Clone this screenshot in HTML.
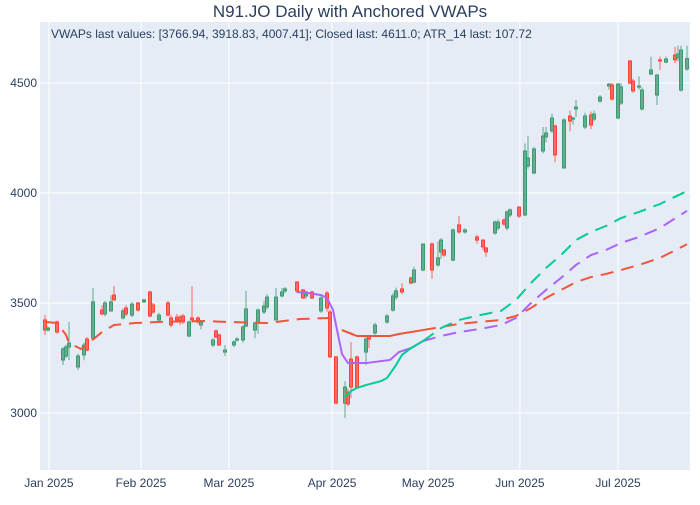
<!DOCTYPE html>
<html><head><meta charset="utf-8"><style>
body{margin:0;background:#fff;font-family:"Liberation Sans",sans-serif}
svg text{font-family:"Liberation Sans",sans-serif}
</style></head><body>
<svg id="chart" width="700" height="500" xmlns="http://www.w3.org/2000/svg">
<rect x="0" y="0" width="700" height="500" fill="#fff"/>
<rect x="40" y="22" width="650" height="448" fill="#E5ECF6"/>
<g id="grid"></g>
<g id="xticks"></g>
<g id="yticks"></g>
<g id="candles"></g>
<g id="lines"></g>
<text x="350" y="17" text-anchor="middle" font-size="17" fill="#2a3f5f">N91.JO Daily with Anchored VWAPs</text>
<text x="51" y="38" font-size="12" fill="#2a3f5f">VWAPs last values: [3766.94, 3918.83, 4007.41]; Closed last: 4611.0; ATR_14 last: 107.72</text>
</svg>
<script>
// candle data: day offset, open, high, low, close
const days=[-1,0,3,5,6,7,10,12,13,15,18,19,21,22,25,26,28,30,32,34,35,37,40,41,43,44,45,47,48,50,51,55,56,57,59,62,63,65,66,69,70,72,73,76,78,79,83,85,86,88,91,93,94,96,99,100,101,103,106,107,109,113,115,116,118,121,122,125,128,130,131,132,135,137,139,143,145,146,149,150,152,153,154,157,159,160,162,165,166,168,169,172,174,175,176,179,181,182,184,187,188,190,191,194,195,197,198,201,203,204,206,209,210,211,213];
const opens=[3423,3377,3414,3241,3259,3300,3209,3264,3336,3341,3468,3450,3464,3536,3432,3477,3445,3500,3505,3550,3491,3423,3500,3432,3436,3436,3441,3350,3432,3432,3400,3309,3373,3355,3277,3309,3332,3332,3395,3377,3409,3459,3482,3423,3532,3555,3595,3559,3532,3550,3464,3545,3459,3255,3045,3095,3245,3255,3277,3350,3364,3414,3468,3527,3564,3614,3595,3650,3768,3673,3732,3741,3695,3855,3823,3800,3786,3750,3818,3841,3877,3841,3900,3936,3900,4123,4091,4191,4255,4282,4305,4114,4350,4336,4382,4300,4355,4336,4418,4486,4491,4341,4409,4600,4509,4482,4382,4541,4445,4605,4595,4627,4614,4468,4564];
const highs=[3445,3395,3420,3300,3310,3414,3270,3320,3345,3568,3490,3510,3536,3577,3475,3490,3505,3505,3520,3555,3500,3455,3510,3445,3450,3445,3450,3420,3577,3440,3420,3340,3380,3360,3309,3330,3345,3400,3555,3415,3475,3510,3540,3568,3568,3573,3600,3564,3555,3555,3530,3555,3470,3260,3145,3110,3323,3260,3355,3355,3410,3450,3545,3570,3590,3620,3665,3770,3775,3780,3795,3745,3840,3895,3840,3810,3790,3755,3875,3880,3885,3920,3930,3940,4225,4260,4210,4300,4300,4360,4310,4340,4375,4345,4423,4365,4370,4375,4445,4500,4500,4500,4500,4605,4520,4530,4480,4620,4541,4620,4620,4665,4670,4670,4670];
const lows=[3355,3370,3360,3218,3250,3241,3195,3240,3280,3341,3445,3440,3460,3510,3425,3440,3435,3460,3500,3435,3450,3418,3440,3390,3410,3400,3405,3345,3410,3405,3380,3300,3340,3305,3259,3300,3325,3320,3390,3340,3360,3450,3470,3420,3525,3545,3545,3518,3520,3518,3455,3460,3250,3040,2977,3030,3068,3110,3218,3295,3355,3405,3460,3515,3540,3585,3590,3645,3610,3665,3700,3710,3690,3815,3815,3770,3740,3710,3810,3830,3850,3830,3890,3885,3895,4110,4085,4180,4230,4275,4140,4110,4280,4310,4345,4290,4290,4325,4410,4470,4420,4335,4400,4495,4455,4470,4375,4535,4400,4560,4590,4590,4600,4460,4555];
const closes=[3377,3386,3368,3291,3300,3318,3259,3309,3286,3505,3450,3500,3505,3514,3464,3450,3495,3468,3514,3441,3459,3445,3445,3400,3423,3420,3414,3414,3423,3414,3414,3332,3345,3309,3286,3323,3336,3391,3473,3409,3468,3486,3527,3527,3550,3564,3555,3523,3550,3523,3523,3477,3255,3045,3118,3041,3118,3118,3336,3336,3400,3441,3532,3555,3550,3591,3650,3768,3650,3705,3786,3718,3832,3823,3832,3786,3755,3732,3868,3868,3859,3914,3923,3895,4191,4159,4200,4259,4273,4341,4173,4332,4327,4341,4391,4350,4309,4359,4436,4495,4427,4495,4482,4500,4464,4486,4468,4559,4536,4600,4609,4605,4632,4650,4611];
// anchored VWAP series (day, value)
const vwap1Days=[-1,3,6,7,11,14,18,22,29,37,52,59,73,84,94,98,103,106,114,117,125,131,137,144,151,156,161,166,171,176,181,186,191,197,204,213];
const vwap1Vals=[3414,3409,3355,3318,3291,3323,3368,3400,3409,3414,3418,3414,3409,3427,3432,3377,3350,3350,3350,3359,3377,3391,3405,3414,3423,3441,3477,3523,3559,3595,3618,3632,3650,3673,3705,3767];
const vwap2Days=[83,87,91,93,95,96,98,100,103,106,114,117,121,125,131,137,144,151,156,161,166,171,176,181,186,191,197,204,213];
const vwap2Vals=[3550,3545,3536,3523,3468,3400,3268,3227,3227,3227,3241,3277,3295,3327,3350,3368,3382,3400,3432,3500,3559,3614,3673,3718,3741,3773,3800,3841,3919];
const vwap3Days=[99,101,103,106,111,113,116,118,121,125,131,137,144,151,156,161,166,171,176,181,186,191,197,204,213];
const vwap3Vals=[3073,3100,3114,3127,3145,3159,3218,3264,3295,3327,3386,3423,3445,3464,3514,3591,3659,3718,3786,3823,3850,3886,3914,3950,4009];
const yTicks=[3000,3500,4000,4500];
const xTickDays=[0.3,31,60.3,94.7,126.7,157.3,190];
const xTickLabels=["Jan 2025","Feb 2025","Mar 2025","Apr 2025","May 2025","Jun 2025","Jul 2025"];

const NS="http://www.w3.org/2000/svg";
const X=d=>48+d*3;
const Y=p=>413-(p-3000)*0.22;
function mk(tag,attrs,parent){const e=document.createElementNS(NS,tag);for(const k in attrs)e.setAttribute(k,attrs[k]);parent.appendChild(e);return e;}
const grid=document.getElementById('grid'),xt=document.getElementById('xticks'),yt=document.getElementById('yticks');
yTicks.forEach(v=>{
  const l=mk('line',{x1:40,x2:690,y1:Y(v),y2:Y(v),stroke:'#fff','stroke-width':1},grid);
  
  
  const t=mk('text',{x:37,y:Y(v)+4,'text-anchor':'end','font-size':12,fill:'#2a3f5f'},yt);
  t.textContent=v;
  
  
});
xTickDays.forEach((d,i)=>{
  const l=mk('line',{x1:X(d),x2:X(d),y1:22,y2:470,stroke:'#fff','stroke-width':1},grid);
  
  
  const t=mk('text',{x:X(d),y:487,'text-anchor':'middle','font-size':12,fill:'#2a3f5f'},xt);
  t.textContent=xTickLabels[i];
  
  
});
const cg=document.getElementById('candles');
days.forEach((d,i)=>{
  const up=closes[i]>=opens[i];
  const col=up?'#3D9970':'#FF4136';
  const x=X(d);
  const g=mk('g',{},cg);
  
  
  mk('line',{x1:x,x2:x,y1:Y(highs[i]),y2:Y(lows[i]),stroke:col,'stroke-width':1,'stroke-opacity':0.8},g);
  const top=Y(Math.max(opens[i],closes[i])),bot=Y(Math.min(opens[i],closes[i]));
  mk('rect',{x:x-1.5,y:top,width:3,height:Math.max(bot-top,1),fill:col,'fill-opacity':0.6,stroke:col,'stroke-width':1},g);
});
const lg=document.getElementById('lines');
function drawLine(ds,vs,color,name,solidUntil,dashBefore){
  const solid=[],dashA=[],dashB=[];
  ds.forEach((d,i)=>{
    const pt=X(d)+','+Y(vs[i]);
    if(dashBefore!==null&&d<=dashBefore)dashA.push(pt);
    if((dashBefore===null||d>=dashBefore+2)&&d<=solidUntil)solid.push(pt);
    if(d>=solidUntil)dashB.push(pt);
  });
  if(dashBefore!==null){
    const i0=ds.findIndex(d=>d>dashBefore);
    const seg=[];ds.forEach((d,i)=>{if(d>=dashBefore&&d<=ds[i0+2])seg.push(X(d)+','+Y(vs[i]));});
    const p=mk('polyline',{points:seg.join(' '),fill:'none',stroke:color,'stroke-width':2,'stroke-dasharray':'13,8'},lg);
    
    
  }
  [[dashA,'13,8','-early'],[solid,'none','-solid'],[dashB,'13,8','-dashed']].forEach(([pts,da,suf])=>{
    if(pts.length<2)return;
    const p=mk('polyline',{points:pts.join(' '),fill:'none',stroke:color,'stroke-width':2,'stroke-dasharray':da},lg);
    
    
  });
}
drawLine(vwap1Days,vwap1Vals,'#EF553B','vwap-anchor-1',125,96);
drawLine(vwap2Days,vwap2Vals,'#AB63FA','vwap-anchor-2',125,null);
drawLine(vwap3Days,vwap3Vals,'#00CC96','vwap-anchor-3',125,null);
</script>
</body></html>
